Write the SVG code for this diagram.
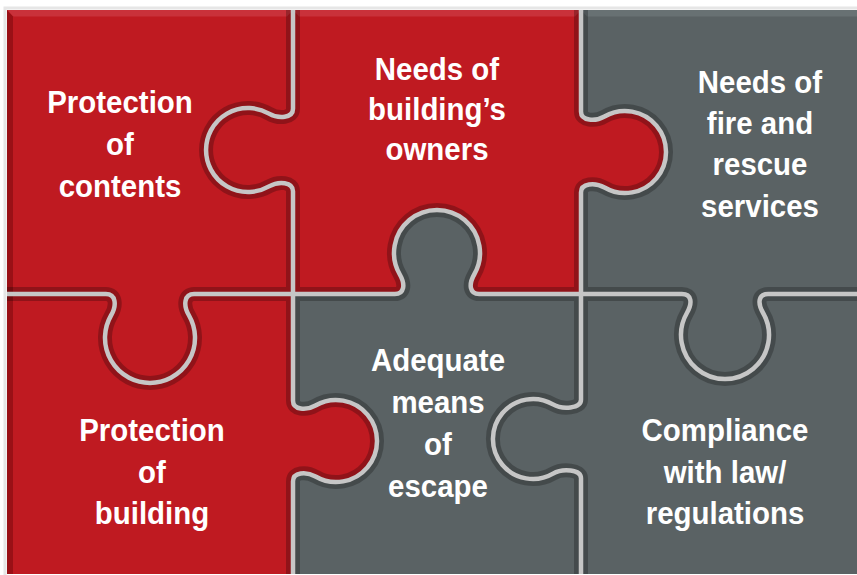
<svg xmlns="http://www.w3.org/2000/svg" width="857" height="575" viewBox="0 0 857 575">
<defs>
<style>
.red{fill:#bf1a21}
.gray{fill:#5a6264}
.lbl{font-family:"Liberation Sans",Arial,sans-serif;font-weight:bold;font-size:32px;fill:#ffffff;text-anchor:middle}
.band{fill:none;stroke:#000;stroke-width:14;stroke-linejoin:round}
.line{fill:none;stroke:#c6c6c6;stroke-width:4.5;stroke-linejoin:round}
.hiR{fill:#c9313a}
.loR{fill:#9a1016}
.hiG{fill:#687173}
</style>
<path id="seamV1" d="M293,10 L293,108.8 C293,118.1 278.8,119.3 269,113.6 A42,42 0 1 0 269,186.4 C278.8,180.7 293,181.9 293,191.2 L293,400.8 C293,409.8 305.9,411 315.5,405.5 A41,41 0 1 1 315.5,476.5 C305.9,471 293,472.2 293,481.2 L293,574"/>
<path id="seamV2" d="M581,10 L581,111.8 C581,120.8 594.9,122 604.5,116.5 A41,41 0 1 1 604.5,187.5 C594.9,182 581,183.2 581,192.2 L581,399.8 C581,408.6 562.4,409.8 553,404.4 A40,40 0 1 0 553,473.6 C562.4,468.2 581,469.4 581,478.2 L581,574"/>
<path id="seamH" d="M7,294 L105.9,294 C115.8,294 117.1,305 111,315.5 A45,45 0 1 0 189,315.5 C182.9,305 184.2,294 194.1,294 L394.9,294 C404.3,294 405.6,284.6 399.8,274.5 A43,43 0 1 1 474.2,274.5 C468.4,284.6 469.7,294 479.1,294 L681.9,294 C691.6,294 692.8,302.7 686.9,313 A44,44 0 1 0 763.1,313 C757.2,302.7 758.4,294 768.1,294 L857,294"/>
</defs>
<rect width="857" height="575" fill="#ffffff"/>
<rect x="5" y="8" width="856" height="570" fill="none" stroke="#e6e6e6" stroke-width="3"/>

<g id="piece1">
<path class="red" d="M7,10 L293,10 L293,108.8 C293,118.1 278.8,119.3 269,113.6 A42,42 0 1 0 269,186.4 C278.8,180.7 293,181.9 293,191.2 L293,294 L194.1,294 C184.2,294 182.9,305 189,315.5 A45,45 0 1 1 111,315.5 C117.1,305 115.8,294 105.9,294 L7,294 Z"/>
<polygon class="hiR" points="7,10 293,10 287,16.5 13,16.5"/>
<polygon class="loR" points="7,10 13,16.5 13,294 7,294"/>
<g transform="translate(120,0) scale(0.92,1)">
<text class="lbl" x="0" y="113">Protection</text>
<text class="lbl" x="0" y="155">of</text>
<text class="lbl" x="0" y="197">contents</text>
</g>
</g>

<g id="piece2">
<path class="red" d="M293,10 L581,10 L581,111.8 C581,120.8 594.9,122 604.5,116.5 A41,41 0 1 1 604.5,187.5 C594.9,182 581,183.2 581,192.2 L581,294 L479.1,294 C469.7,294 468.4,284.6 474.2,274.5 A43,43 0 1 0 399.8,274.5 C405.6,284.6 404.3,294 394.9,294 L293,294 L293,191.2 C293,181.9 278.8,180.7 269,186.4 A42,42 0 1 1 269,113.6 C278.8,119.3 293,118.1 293,108.8 Z"/>
<polygon class="hiR" points="293,10 581,10 575,16.5 299,16.5"/>
<g transform="translate(437,0) scale(0.92,1)">
<text class="lbl" x="0" y="80">Needs of</text>
<text class="lbl" x="0" y="120">building’s</text>
<text class="lbl" x="0" y="160">owners</text>
</g>
</g>

<g id="piece3">
<path class="gray" d="M581,10 L857,10 L857,294 L768.1,294 C758.4,294 757.2,302.7 763.1,313 A44,44 0 1 1 686.9,313 C692.8,302.7 691.6,294 681.9,294 L581,294 L581,192.2 C581,183.2 594.9,182 604.5,187.5 A41,41 0 1 0 604.5,116.5 C594.9,122 581,120.8 581,111.8 Z"/>
<polygon class="hiG" points="581,10 857,10 857,16.5 587,16.5"/>
<g transform="translate(760,0) scale(0.92,1)">
<text class="lbl" x="0" y="93">Needs of</text>
<text class="lbl" x="0" y="134">fire and</text>
<text class="lbl" x="0" y="175">rescue</text>
<text class="lbl" x="0" y="217">services</text>
</g>
</g>

<g id="piece4">
<path class="red" d="M7,294 L105.9,294 C115.8,294 117.1,305 111,315.5 A45,45 0 1 0 189,315.5 C182.9,305 184.2,294 194.1,294 L293,294 L293,400.8 C293,409.8 305.9,411 315.5,405.5 A41,41 0 1 1 315.5,476.5 C305.9,471 293,472.2 293,481.2 L293,574 L7,574 Z"/>
<polygon class="loR" points="7,294 13,294 13,574 7,574"/>
<g transform="translate(152,0) scale(0.92,1)">
<text class="lbl" x="0" y="441">Protection</text>
<text class="lbl" x="0" y="483">of</text>
<text class="lbl" x="0" y="524">building</text>
</g>
</g>

<g id="piece5">
<path class="gray" d="M293,294 L394.9,294 C404.3,294 405.6,284.6 399.8,274.5 A43,43 0 1 1 474.2,274.5 C468.4,284.6 469.7,294 479.1,294 L581,294 L581,399.8 C581,408.6 562.4,409.8 553,404.4 A40,40 0 1 0 553,473.6 C562.4,468.2 581,469.4 581,478.2 L581,574 L293,574 L293,481.2 C293,472.2 305.9,471 315.5,476.5 A41,41 0 1 0 315.5,405.5 C305.9,411 293,409.8 293,400.8 Z"/>
<g transform="translate(438,0) scale(0.92,1)">
<text class="lbl" x="0" y="371">Adequate</text>
<text class="lbl" x="0" y="413">means</text>
<text class="lbl" x="0" y="455">of</text>
<text class="lbl" x="0" y="497">escape</text>
</g>
</g>

<g id="piece6">
<path class="gray" d="M581,294 L681.9,294 C691.6,294 692.8,302.7 686.9,313 A44,44 0 1 0 763.1,313 C757.2,302.7 758.4,294 768.1,294 L857,294 L857,574 L581,574 L581,478.2 C581,469.4 562.4,468.2 553,473.6 A40,40 0 1 1 553,404.4 C562.4,409.8 581,408.6 581,399.8 Z"/>
<g transform="translate(725,0) scale(0.92,1)">
<text class="lbl" x="0" y="441">Compliance</text>
<text class="lbl" x="0" y="483">with law/</text>
<text class="lbl" x="0" y="524">regulations</text>
</g>
</g>

<g id="seams">
<g opacity="0.24">
<use href="#seamV1" class="band"/>
<use href="#seamV2" class="band"/>
<use href="#seamH" class="band"/>
</g>
<use href="#seamV1" class="line"/>
<use href="#seamV2" class="line"/>
<use href="#seamH" class="line"/>
</g>
</svg>
